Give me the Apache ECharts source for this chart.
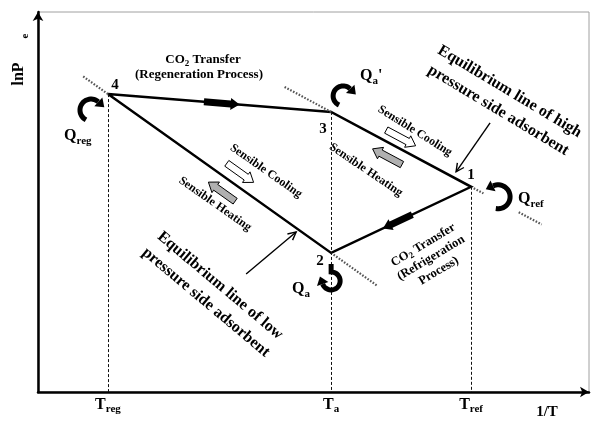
<!DOCTYPE html>
<html><head><meta charset="utf-8">
<script src="https://cdn.jsdelivr.net/npm/echarts@6/dist/echarts.min.js"></script>
<style>html,body{margin:0;padding:0;background:#fff}#c{width:592px;height:422px}</style>
</head><body><div id="c"></div>
<script>
// Cycle state points: 1/T (axis units) and lnPe (axis units)
const stateNames = ['1', '2', '3', '4'];
const stateInvT  = [78.6, 53.2, 53.2, 12.7];
const stateLnP   = [54.0, 36.6, 73.7, 78.4];
const cycleOrder = ['4', '3', '1', '2', '4'];
// x-axis tick positions and their subscripts (T_reg, T_a, T_ref)
const tickValues = [12.7, 53.2, 78.6];
const tickSubs   = ['reg', 'a', 'ref'];

const FF = '"Liberation Serif", "Times New Roman", serif';

function idx(n) { return stateNames.indexOf(n); }
const cycleData = cycleOrder.map(n => [stateInvT[idx(n)], stateLnP[idx(n)]]);

function unit(a, b) { const dx = b[0]-a[0], dy = b[1]-a[1]; const L = Math.hypot(dx, dy); return [dx/L, dy/L]; }
function lerp(a, b, t) { return [a[0]+(b[0]-a[0])*t, a[1]+(b[1]-a[1])*t]; }
function add(a, v, k) { return [a[0]+v[0]*k, a[1]+v[1]*k]; }

function blockArrow(a, b, t0, t1, off, sw, hw, hl, fill, stroke) {
  const u = unit(a, b), n = [u[1], -u[0]];
  const s = add(lerp(a, b, t0), n, off), e = add(lerp(a, b, t1), n, off);
  const d = unit(s, e), m = [-d[1], d[0]];
  const L = Math.hypot(e[0]-s[0], e[1]-s[1]);
  const se = add(s, d, L - hl);
  const pts = [add(s, m, sw/2), add(se, m, sw/2), add(se, m, hw/2), e, add(se, m, -hw/2), add(se, m, -sw/2), add(s, m, -sw/2)];
  return { type: 'polygon', shape: { points: pts }, style: { fill: fill, stroke: stroke || null, lineWidth: stroke ? 1 : 0 } };
}

function curvedArrow(c, r, a0, a1, lead) {
  const pts = [];
  if (lead) pts.push(lead);
  const N = 30;
  for (let i = 0; i <= N; i++) {
    const a = (a0 + (a1 - a0) * i / N) * Math.PI / 180;
    pts.push([c[0] + r * Math.cos(a), c[1] + r * Math.sin(a)]);
  }
  const ae = a1 * Math.PI / 180;
  const E = [c[0] + r * Math.cos(ae), c[1] + r * Math.sin(ae)];
  const d = a1 > a0 ? [-Math.sin(ae), Math.cos(ae)] : [Math.sin(ae), -Math.cos(ae)];
  const m = [-d[1], d[0]];
  const tip = add(E, d, 8);
  const head = [add(E, m, 6), tip, add(E, m, -6)];
  return [
    { type: 'polyline', shape: { points: pts }, style: { stroke: '#000', lineWidth: 5, fill: null, lineCap: 'butt' } },
    { type: 'polygon', shape: { points: head }, style: { fill: '#000' } }
  ];
}

function pointer(tail, tip) {
  const d = unit(tail, tip), m = [-d[1], d[0]];
  const b = add(tip, d, -8);
  return [
    { type: 'line', shape: { x1: tail[0], y1: tail[1], x2: tip[0], y2: tip[1] }, style: { stroke: '#000', lineWidth: 1.4 } },
    { type: 'polyline', shape: { points: [add(b, m, 4), tip, add(b, m, -4)] }, style: { stroke: '#000', lineWidth: 1.4, fill: null } }
  ];
}

function dotted(p, dir, l0, l1) {
  const s = add(p, dir, l0), e = add(p, dir, l1);
  return { type: 'line', shape: { x1: s[0], y1: s[1], x2: e[0], y2: e[1] }, style: { stroke: '#555', lineWidth: 2.2, lineDash: [1.6, 1.6] } };
}

function renderDecor(params, api) {
  const P = {};
  stateNames.forEach((n, i) => { P[n] = api.coord([stateInvT[i], stateLnP[i]]); });
  const baseY = api.coord([0, 0])[1];
  const kids = [];
  // vertical dashed guides to the 1/T axis
  ['4', '3', '1'].forEach(n => {
    const p = P[n];
    const x = Math.round(p[0]) + 0.5;
    kids.push({ type: 'line', shape: { x1: x, y1: p[1], x2: x, y2: baseY }, style: { stroke: '#111', lineWidth: 1, lineDash: [3, 2] } });
  });
  // dotted extensions of equilibrium lines
  kids.push(dotted(P['4'], unit(P['2'], P['4']), 0, 32));
  kids.push(dotted(P['3'], unit(P['1'], P['3']), 0, 53));
  kids.push(dotted(P['1'], unit(P['3'], P['1']), 3, 14));
  kids.push(dotted(P['1'], unit(P['3'], P['1']), 54, 80));
  kids.push(dotted(P['2'], unit(P['4'], P['2']), 3, 57));
  // black process arrows on CO2 transfer lines
  kids.push(blockArrow(P['4'], P['3'], 0.43, 0.59, 0, 7, 12, 9, '#000'));
  kids.push(blockArrow(P['1'], P['2'], 0.42, 0.63, 0, 7, 12, 9, '#000'));
  // sensible cooling (white) / heating (grey) arrows
  kids.push(blockArrow(P['4'], P['2'], 0.50, 0.62, 12.5, 7, 13, 9, '#fff', '#000'));
  kids.push(blockArrow(P['4'], P['2'], 0.605, 0.485, -13.5, 7, 13, 9, '#b0b0b0', '#000'));
  kids.push(blockArrow(P['3'], P['1'], 0.36, 0.57, 10, 7, 13, 9, '#fff', '#000'));
  kids.push(blockArrow(P['3'], P['1'], 0.55, 0.34, -13, 7, 13, 9, '#b0b0b0', '#000'));
  // heat flow curved arrows
  kids.push(...curvedArrow(add(P['4'], [-17, 16], 1), 11, 117, 312));
  kids.push(...curvedArrow(add(P['3'], [12, -16], 1), 10, 114, 315));
  kids.push(...curvedArrow(add(P['1'], [27, 10], 1), 12, 101, -115));
  const cQa = add(P['2'], [0, 28], 1);
  kids.push(...curvedArrow(cQa, 9, -90, 160, [cQa[0], cQa[1] - 17]));
  // pointers to equilibrium lines
  kids.push(...pointer(add(P['1'], [19, -64], 1), add(P['1'], [-15, -15], 1)));
  kids.push(...pointer(add(P['2'], [-85, 21], 1), add(P['2'], [-35, -21], 1)));
  return { type: 'group', children: kids };
}

function RICH(size) {
  return {
    s: { fontSize: Math.round(size * 0.68), fontWeight: 'bold', fontFamily: FF, fill: '#000', color: '#000', verticalAlign: 'bottom', lineHeight: Math.round(size * 0.7) }
  };
}
function T(x, y, rot, text, size, extra) {
  return {
    type: 'text', x: x, y: y, rotation: rot * Math.PI / 180, z: 100,
    style: Object.assign({ text: text, fill: '#000', fontSize: size, fontWeight: 'bold', fontFamily: FF,
      align: 'center', verticalAlign: 'middle', lineHeight: Math.round(size * 1.3), rich: RICH(size) }, extra || {})
  };
}

const texts = [
  T(19, 74, 90, 'lnP', 16),
  T(25, 36, 90, 'e', 11),
  T(203, 60, 0, 'CO{s|2} Transfer', 13),
  T(199, 75, 0, '(Regeneration Process)', 13),
  T(115, 85, 0, '4', 15), T(323, 129, 0, '3', 15), T(471, 175, 0, '1', 15), T(320, 261, 0, '2', 15),
  T(64, 136, 0, 'Q{s|reg}', 16, { align: 'left' }),
  T(360, 76, 0, "Q{s|a}'", 16, { align: 'left' }),
  T(518, 199, 0, 'Q{s|ref}', 16, { align: 'left' }),
  T(292, 289, 0, 'Q{s|a}', 16, { align: 'left' }),
  T(266, 171, -35, 'Sensible Cooling', 12),
  T(215, 204, -35, 'Sensible Heating', 12),
  T(415, 131, -32, 'Sensible Cooling', 12),
  T(366, 170, -34, 'Sensible Heating', 12),
  T(504, 101, -31, 'Equilibrium line of high\npressure side adsorbent', 16, { lineHeight: 22 }),
  T(213, 294, -40, 'Equilibrium line of low\npressure side adsorbent', 16, { lineHeight: 22 }),
  T(431, 258, 31, 'CO{s|2} Transfer\n(Refrigeration\nProcess)', 12.5, { lineHeight: 15 }),
  T(547, 412, 0, '1/T', 15)
];

const chart = echarts.init(document.getElementById('c'), null, { renderer: 'canvas' });
chart.setOption({
  animation: false,
  backgroundColor: '#fff',
  grid: { left: 38, right: 3, top: 12, bottom: 30, show: true, borderColor: '#a0a0a0', borderWidth: 1, backgroundColor: 'transparent' },
  xAxis: {
    type: 'value', min: 0, max: 100,
    axisLine: { show: true, lineStyle: { color: '#000', width: 2.5 }, symbol: ['none', 'arrow'], symbolSize: [8, 9] },
    axisTick: { show: false }, splitLine: { show: false },
    axisLabel: {
      show: true, customValues: tickValues, margin: 3,
      formatter: function (v) {
        let k = 0, best = 1e9;
        tickValues.forEach((t, i) => { if (Math.abs(t - v) < best) { best = Math.abs(t - v); k = i; } });
        return 'T{s|' + tickSubs[k] + '}';
      },
      color: '#000', fontSize: 16, fontWeight: 'bold', fontFamily: FF, lineHeight: 20,
      rich: { s: { fontSize: 11, fontWeight: 'bold', fontFamily: FF, color: '#000', verticalAlign: 'bottom', lineHeight: 11 } }
    }
  },
  yAxis: {
    type: 'value', min: 0, max: 100,
    axisLine: { show: true, lineStyle: { color: '#000', width: 2.5 }, symbol: ['none', 'arrow'], symbolSize: [8, 9] },
    axisTick: { show: false }, splitLine: { show: false }, axisLabel: { show: false }
  },
  series: [
    { type: 'line', data: cycleData, symbol: 'none', z: 3, lineStyle: { color: '#000', width: 2.5, join: 'miter' }, silent: true },
    { type: 'custom', data: [[0, 0]], renderItem: renderDecor, clip: false, z: 4, silent: true }
  ],
  graphic: texts
});
</script>
</body></html>
